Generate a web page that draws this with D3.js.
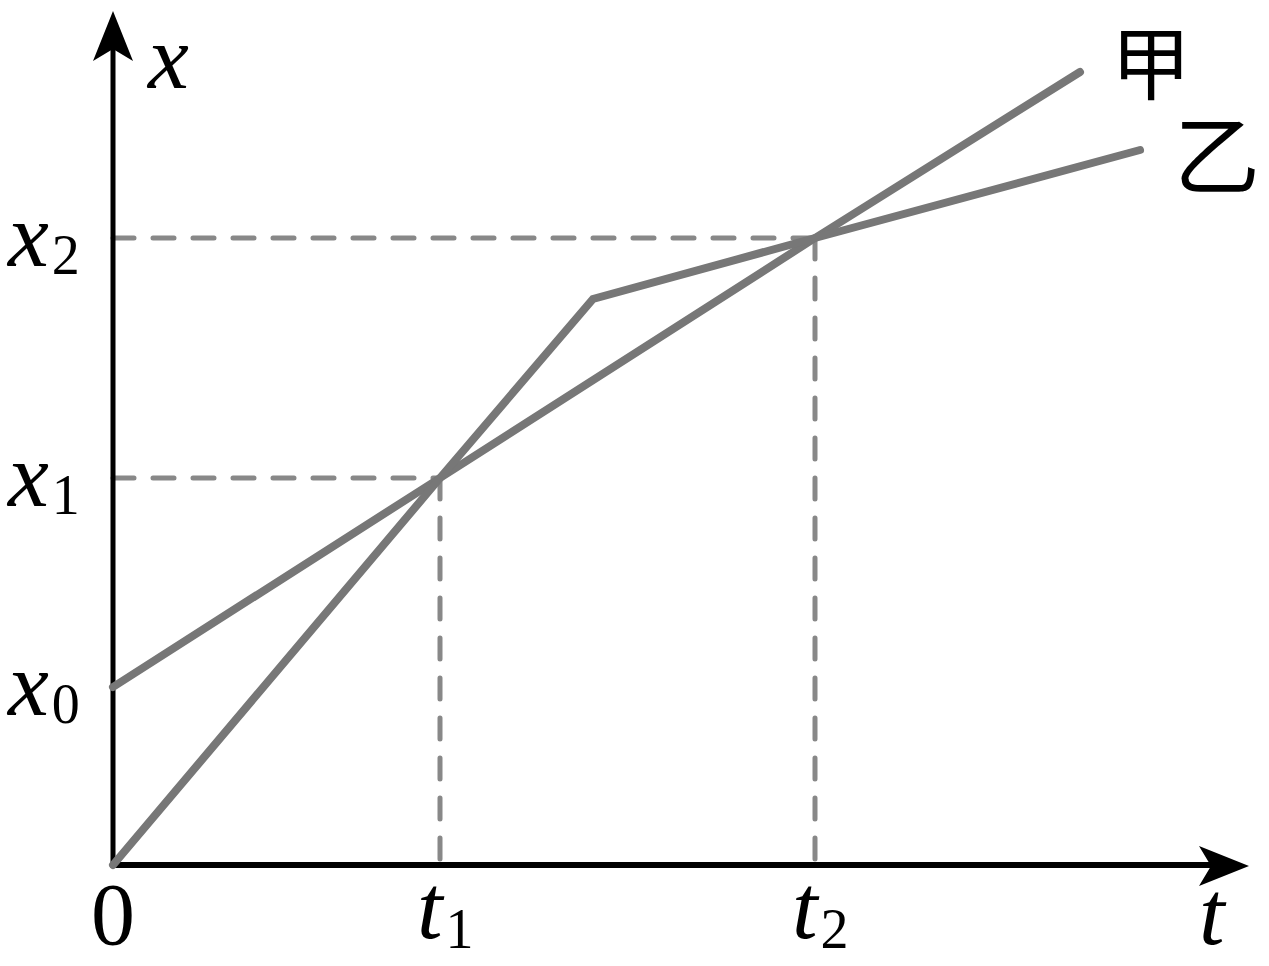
<!DOCTYPE html>
<html><head><meta charset="utf-8">
<script src="https://cdn.jsdelivr.net/npm/d3@7"></script>
<style>html,body{margin:0;padding:0;background:#fff;}svg{display:block;}</style>
</head><body>
<script>
// Data (arbitrary units: t in time units, x in position units)
const tTicks = ["t1", "t2"];
const tValues = [3.27, 7.02];
const xValues = [1.78, 3.87, 6.27]; // x0, x1, x2
const jiaT = [0, 3.27, 7.02, 9.67];
const jiaX = [1.78, 3.87, 6.27, 7.93];
const yiT = [0, 3.27, 4.80, 7.02, 10.27];
const yiX = [0, 3.87, 5.66, 6.27, 7.15];
const seriesNames = ["甲", "乙"];

const W = 1269, H = 966;
const svg = d3.select("body").append("svg").attr("width", W).attr("height", H);
const xs = d3.scaleLinear().domain([0, 10]).range([113, 1113]);
const ys = d3.scaleLinear().domain([0, 10]).range([865, -135]);

const serif = "'Liberation Serif','Times New Roman',serif";

// dashed guides
const dashColor = "#888";
[[0,1],[1,2]].forEach(([ti, xi], i) => {
  svg.append("line").attr("x1", xs(0)).attr("x2", xs(tValues[i]))
    .attr("y1", ys(xValues[xi])).attr("y2", ys(xValues[xi]))
    .attr("stroke", dashColor).attr("stroke-width", 5).attr("stroke-dasharray", "21,19").attr("stroke-linecap", "round");
  svg.append("line").attr("x1", xs(tValues[i])).attr("x2", xs(tValues[i]))
    .attr("y1", ys(xValues[xi])).attr("y2", ys(0))
    .attr("stroke", dashColor).attr("stroke-width", 5).attr("stroke-dasharray", "21,19").attr("stroke-linecap", "round");
});

// axes
const ax = svg.append("g");
ax.append("line").attr("x1", xs(0)).attr("x2", 1215).attr("y1", ys(0)).attr("y2", ys(0))
  .attr("stroke", "#000").attr("stroke-width", 6);
ax.append("line").attr("x1", xs(0)).attr("x2", xs(0)).attr("y1", ys(0) + 3).attr("y2", 45)
  .attr("stroke", "#000").attr("stroke-width", 5);
// arrowheads
const x0p = xs(0), y0p = ys(0);
ax.append("path").attr("d", `M${x0p},11 L${x0p+20},61 L${x0p},49 L${x0p-20},61 Z`).attr("fill", "#000");
ax.append("path").attr("d", `M1249,${y0p+1} L1199,${y0p+21} L1211,${y0p+1} L1199,${y0p-19} Z`).attr("fill", "#000");

// data lines
const line = d3.line().x(d => xs(d[0])).y(d => ys(d[1]));
const lineColor = "#777";
svg.append("path").datum(jiaT.map((t, i) => [t, jiaX[i]])).attr("d", line)
  .attr("fill", "none").attr("stroke", lineColor).attr("stroke-width", 8).attr("stroke-linecap", "round").attr("stroke-linejoin", "miter");
svg.append("path").datum(yiT.map((t, i) => [t, yiX[i]])).attr("d", line)
  .attr("fill", "none").attr("stroke", lineColor).attr("stroke-width", 8).attr("stroke-linecap", "round").attr("stroke-linejoin", "miter");

// labels
function subLabel(x, y, main, sub, dy) {
  const t = svg.append("text").attr("x", x).attr("y", y).attr("font-family", serif).attr("fill", "#000");
  t.append("tspan").text(main).attr("font-size", 92).attr("font-style", "italic");
  if (sub !== null) t.append("tspan").text(sub).attr("font-size", 56).attr("dx", 3).attr("dy", dy);
  return t;
}
// axis titles
subLabel(148, 88, "x", null, 0);
subLabel(1199, 944, "t", null, 0);
// origin
svg.append("text").attr("x", 113).attr("y", 944).attr("text-anchor", "middle")
  .attr("font-family", serif).attr("font-size", 88).text("0");
// x tick labels
xValues.forEach((v, i) => subLabel(8, ys(v) + 28, "x", String(i), 8));
// t tick labels
tTicks.forEach((lab, i) => subLabel(xs(tValues[i]) - 23, 938, "t", lab.slice(1), 10));
// series names
const cjk = "'Noto Sans CJK SC','Noto Sans CJK TC',sans-serif";
svg.append("text").attr("x", 1151).attr("y", 93).attr("text-anchor", "middle")
  .attr("font-family", cjk).attr("font-size", 80).text(seriesNames[0]);
svg.append("text").attr("x", 1217).attr("y", 188).attr("text-anchor", "middle")
  .attr("font-family", cjk).attr("font-size", 86).text(seriesNames[1]);
</script>
</body></html>
